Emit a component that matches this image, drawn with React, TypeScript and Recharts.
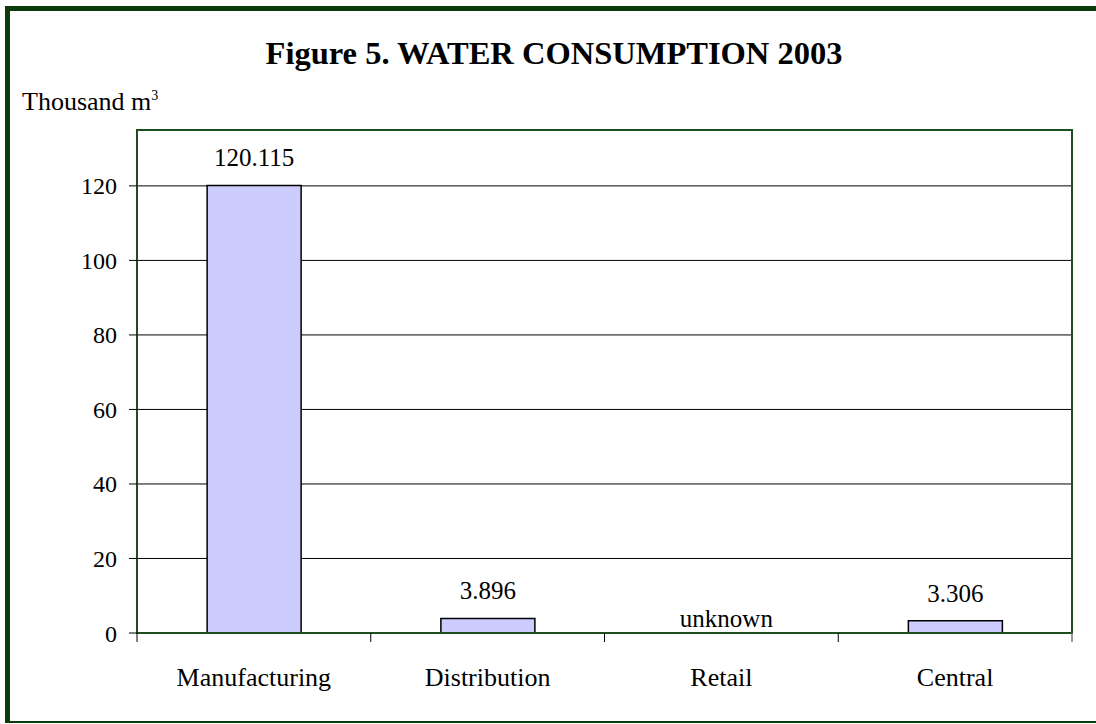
import { BarChart, Bar, XAxis, YAxis, CartesianGrid, ReferenceArea, LabelList } from 'recharts'

const categories = ['Manufacturing', 'Distribution', 'Retail', 'Central']
const consumption = [120.115, 3.896, 0, 3.306]
const valueLabels = ['120.115', '3.896', 'unknown', '3.306']
const yTicks = [0, 20, 40, 60, 80, 100, 120]

const data = categories.map((name, i) => ({ name, value: consumption[i], label: valueLabels[i] }))

const W = 1096
const H = 724
const MARGIN = { top: 130, right: 24, bottom: 31, left: 57 }
const Y_AXIS_W = 80
const plotWidth = W - MARGIN.left - Y_AXIS_W - MARGIN.right

const GREEN = '#0b3b0b'
const AXIS_GREEN = '#1e4d1e'

// category axis: tick marks sit on the category boundaries, labels in the middle.
// categories without a value get their "unknown" note drawn just above the axis
const XTick = (props: any) => {
  const { x, y, payload, index } = props
  const half = payload && payload.offset ? payload.offset : plotWidth / categories.length / 2
  return (
    <g>
      <line x1={x - half} y1={y} x2={x - half} y2={y + 9} stroke="#000" strokeWidth={1} />
      {index === categories.length - 1 && (
        <line x1={x + half} y1={y} x2={x + half} y2={y + 9} stroke="#777" strokeWidth={1.5} />
      )}
      {!consumption[index] && (
        <text x={x + 5} y={y - 6} textAnchor="middle" fill="#000" fontSize={25}>
          {valueLabels[index]}
        </text>
      )}
      <text x={x} y={y + 53} textAnchor="middle" fill="#000" fontSize={26}>
        {payload.value}
      </text>
    </g>
  )
}

const ValueLabel = (props: any) => {
  const { x, y, width, value } = props
  return (
    <text x={x + width / 2} y={y - 19} textAnchor="middle" fill="#000" fontSize={25}>
      {value}
    </text>
  )
}

export default function App() {
  return (
    <div
      style={{
        position: 'absolute',
        left: 0,
        top: 0,
        width: W,
        height: H,
        background: '#fff',
        fontFamily: '"Liberation Serif", "Times New Roman", serif',
        overflow: 'hidden',
      }}
    >
      <div
        style={{
          position: 'absolute',
          left: 5,
          top: 6,
          width: W,
          height: 717,
          boxSizing: 'border-box',
          borderLeft: `5px solid ${GREEN}`,
          borderTop: `5px solid ${GREEN}`,
          borderBottom: `2px solid ${GREEN}`,
        }}
      />
      <div
        style={{
          position: 'absolute',
          left: 0,
          width: 1108,
          top: 37,
          textAlign: 'center',
          fontSize: 32.5,
          lineHeight: '32px',
          fontWeight: 'bold',
        }}
      >
        Figure 5. WATER CONSUMPTION 2003
      </div>
      <div style={{ position: 'absolute', left: 22, top: 89, fontSize: 26, lineHeight: '26px' }}>
        Thousand m<sup style={{ fontSize: 14, verticalAlign: 'top', position: 'relative', top: -6 }}>3</sup>
      </div>
      <div style={{ position: 'absolute', left: 0, top: 0 }}>
        <BarChart width={W} height={H} data={data} margin={MARGIN} barCategoryGap="30%">
          <CartesianGrid vertical={false} stroke="#000" strokeWidth={1} fill="none" />
          <XAxis
            dataKey="name"
            height={60}
            tickLine={false}
            tickSize={0}
            tickMargin={0}
            axisLine={{ stroke: AXIS_GREEN, strokeWidth: 2 }}
            tick={<XTick />}
            interval={0}
          />
          <YAxis
            width={Y_AXIS_W}
            domain={[0, 135]}
            ticks={yTicks}
            allowDataOverflow
            tickSize={8}
            tickMargin={12}
            tickLine={{ stroke: '#000' }}
            axisLine={{ stroke: AXIS_GREEN, strokeWidth: 2 }}
            tick={{ fill: '#000', fontSize: 24 }}
          />
          <ReferenceArea y1={0} y2={135} fill="none" stroke={AXIS_GREEN} strokeWidth={2} />
          <Bar dataKey="value" fill="#ccccff" stroke="#000" strokeWidth={1.5} isAnimationActive={false}>
            <LabelList dataKey="label" content={<ValueLabel />} />
          </Bar>
        </BarChart>
      </div>
    </div>
  )
}
